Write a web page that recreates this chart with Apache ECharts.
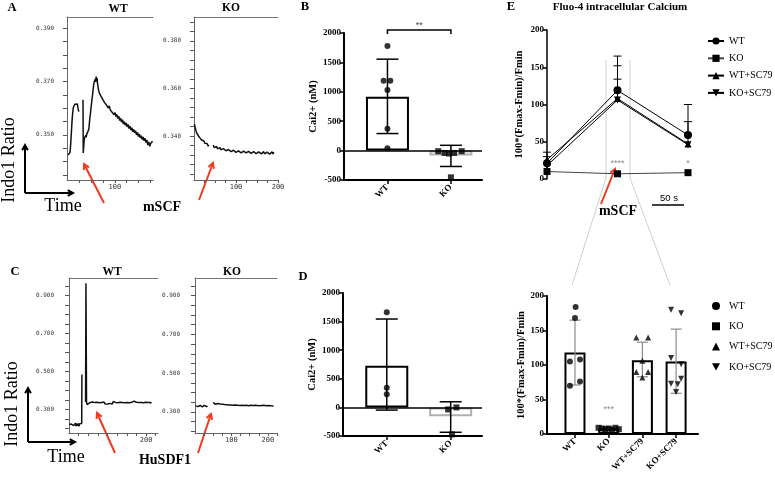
<!DOCTYPE html>
<html><head><meta charset="utf-8">
<script src="https://cdn.jsdelivr.net/npm/echarts@6/dist/echarts.min.js"></script>
<style>html,body{margin:0;padding:0;background:#fff}#c{width:775px;height:481px}</style>
</head><body><div id="c"></div>
<script>
// ---------------- DATA ----------------
// Panel A (mSCF) Indo1 ratio traces: time (s) / ratio, null = recording gap
const aWtTime = [0,1,2,3,4,5,6,7,8,9,10,11,12,13,14,15,16,17,18,19,20,21,22,23,28,
  32,32.6,34,35,36,37,38,39,40,41,42,43,44,45,46,47,48,49,50,51,52,53,54,55,56,57,58,59,60,61,62,63,64,65,66,67,68,
  70,72,74,76,78,80,82,84,86,88,90,92,94,96,98,100,102,104,106,108,110,112,114,116,118,120,122,124,126,128,130,
  132,134,136,138,140,142,144,146,148,150,152,154,156,158,160,162,164,166,168,170,172,174,176,178,180];
const aWtRatio = [.3425,.3430,.3422,.3428,.3433,.3445,.3470,.3500,.3530,.3560,.3580,.3597,.3606,.3612,.3606,.3615,.3620,.3611,.3618,.3609,.3616,.3604,.3598,.3587,null,
  .3632,.3432,.3468,.3487,.3494,.3486,.3499,.3491,.3503,.3496,.3506,.3510,.3519,.3532,.3551,.3568,.3582,.3601,.3614,.3632,.3644,.3661,.3677,.3691,.3699,.3694,.3709,.3699,.3719,.3704,.3713,.3691,.3683,.3669,.3676,.3656,.3663,
  .3646,.3652,.3633,.3640,.3621,.3628,.3612,.3619,.3601,.3609,.3594,.3601,.3585,.3592,.3576,.3584,.3569,.3577,.3562,.3570,.3554,.3563,.3548,.3557,.3541,.3550,.3536,.3545,.3530,.3539,.3524,
  .3533,.3518,.3527,.3512,.3521,.3507,.3515,.3500,.3509,.3494,.3503,.3489,.3497,.3483,.3492,.3478,.3487,.3472,.3481,.3462,.3474,.3457,.3468,.3462,.3476];
const aKoTime = [1,2,3,4,5,6,7,8,9,10,11,12,13,14,15,16,17,18,19,20,21,22,23,24,25,26,27,28,29,30,31,32,33,34,35,36,41,
  46,48,50,52,54,56,58,60,62,64,66,68,70,72,74,76,78,80,82,84,86,88,90,92,94,96,98,100,102,104,106,108,110,112,114,116,118,120,
  122,124,126,128,130,132,134,136,138,140,142,144,146,148,150,152,154,156,158,160,162,164,166,168,170,172,174,176,178,180,182,184,186,188,190,192];
const aKoRatio = [.3450,.3441,.3436,.3426,.3422,.3414,.3417,.3408,.3410,.3402,.3405,.3397,.3400,.3392,.3395,.3387,.3391,.3383,.3387,.3379,.3383,.3375,.3380,.3372,.3377,.3369,.3374,.3366,.3371,.3363,.3368,.3360,.3366,.3357,.3363,.3355,null,
  .3362,.3351,.3358,.3349,.3356,.3346,.3353,.3344,.3351,.3342,.3349,.3341,.3347,.3339,.3346,.3338,.3345,.3336,.3343,.3335,.3342,.3334,.3341,.3333,.3340,.3332,.3339,.3331,.3338,.3330,.3337,.3329,.3337,.3329,.3336,.3328,.3336,.3328,
  .3337,.3329,.3336,.3327,.3335,.3328,.3336,.3327,.3335,.3326,.3334,.3327,.3335,.3326,.3334,.3325,.3333,.3326,.3334,.3325,.3333,.3326,.3334,.3325,.3333,.3324,.3332,.3325,.3333,.3324,.3332,.3325,.3333,.3324,.3332,.3326];
// Panel C (HuSDF1) Indo1 ratio traces
const cWtTime = [0,1,2,3,4,5,6,7,8,9,10,11,12,13,14,15,16,17,18,19,20,21,22,23,24,25,26,27,28,29,30,31,32,33,33.5,38,
  43,44,45.5,47,49,52,55,58,61,64,67,70,73,76,79,82,85,88,91,94,97,100,103,106,109,112,115,118,121,124,127,130,133,136,139,142,
  145,148,151,154,157,160,163,166,169,172,175,178,181,184,187,190,193,196,199,202,205,208,211,214];
const cWtRatio = [.222,.215,.226,.218,.230,.212,.224,.219,.228,.214,.222,.231,.216,.225,.210,.223,.219,.229,.213,.226,.218,.232,.215,.224,.220,.228,.212,.225,.218,.230,.216,.224,.219,.227,.485,null,
  .340,.965,.338,.327,.336,.329,.338,.331,.340,.330,.337,.328,.339,.332,.336,.327,.338,.331,.340,.329,.335,.330,.339,.333,.337,.329,.343,.352,.338,.330,.336,.328,.339,.331,.337,.329,
  .336,.330,.338,.332,.336,.328,.339,.333,.345,.353,.339,.330,.337,.329,.338,.331,.336,.330,.339,.332,.337,.330,.338,.333];
const cKoTime = [2,4,6,8,10,12,14,16,18,20,22,24,26,28,30,32,34,43,
  50,52,54,56,58,60,63,66,69,72,75,78,81,84,87,90,93,96,99,102,105,108,111,114,117,120,123,126,129,132,135,138,141,144,147,150,
  153,156,159,162,165,168,171,174,177,180,183,186,189,192,195,198,201,204,207,210,213,215];
const cKoRatio = [.331,.325,.334,.327,.336,.324,.333,.328,.335,.326,.332,.323,.334,.329,.336,.327,.331,null,
  .349,.342,.347,.339,.344,.338,.343,.336,.341,.334,.340,.333,.338,.331,.337,.330,.336,.329,.335,.328,.334,.327,.335,.328,.334,.327,.333,.326,.334,.327,.333,.325,.334,.328,.332,.325,
  .334,.327,.333,.326,.334,.325,.333,.327,.332,.324,.333,.326,.334,.325,.332,.327,.333,.325,.332,.326,.331,.328];
// Trace axis ticks / labels
const aWtYTicks = [0.335,0.34,0.345,0.35,0.355,0.36,0.365,0.37,0.375,0.38,0.385,0.39];
const aWtYLabels = [0.35,0.37,0.39];
const aKoYTicks = [0.324,0.328,0.332,0.336,0.34,0.344,0.348,0.352,0.356,0.36,0.364,0.368,0.372,0.376,0.38,0.384,0.388];
const aKoYLabels = [0.34,0.36,0.38];
const cYTicks = [0.2,0.25,0.3,0.35,0.4,0.45,0.5,0.55,0.6,0.65,0.7,0.75,0.8,0.85,0.9,0.95];
const cYLabels = [0.3,0.5,0.7,0.9];
const aWtXTicks = [25,50,75,100,125,150,175];
const aWtXLabels = [100];
const aKoXTicks = [25,50,75,100,125,150,175,200];
const aKoXLabels = [100,200];
const cWtXTicks = [25,50,75,100,125,150,175,200,225];
const cWtXLabels = [200];
const cKoXTicks = [25,50,75,100,125,150,175,200,225];
const cKoXLabels = [100,200];

// Panel B and D : Cai2+ (nM)
const bdCats = ['WT','KO'];
const bMeans = [915, -85];
const bErrLo = [290, -270];
const bErrHi = [1555, 90];
const bWtPts = [1780, 1190, 1190, 1030, 370, 40];
const bWtJit = [0, -0.06, 0.045, 0, 0, 0];
const bKoPts = [-10, -40, -50, -40, -10, -455];
const bKoJit = [-0.2, -0.1, -0.03, 0.05, 0.17, 0];
const bSigY = 2050;
const dMeans = [730, -155];
const dErrLo = [-47, -435];
const dErrHi = [1545, 98];
const dWtPts = [1662, 343, 232];
const dWtJit = [0, 0, 0];
const dKoPts = [-35, 0, -472];
const dKoJit = [-0.04, 0.09, 0.02];
const bdYTicks = [-500, 0, 500, 1000, 1500, 2000];

// Panel E top: Fluo-4 time course (3 time points)
const eNames = ['WT','KO','WT+SC79','KO+SC79'];
const eTopTimes = [0, 1, 2];
const eTopWt = [21, 119, 59];
const eTopKo = [10, 7, 8.5];
const eTopWtSc = [26, 108, 47];
const eTopKoSc = [18, 106, 46];
const eTopWtSd = [15, 46, 41];
const eTopWtScSd = [4, 26, 30];
const eTopKoScSd = [0, 46, 0];
const eTopSig = ['', '****', '*'];
// Panel E bottom: peak response per group
const eMeans = [118, 8, 107, 105];
const eErrLo = [71, 6, 83, 59];
const eErrHi = [165, 10, 133, 152];
const eWtPts = [184, 168, 105, 108, 70, 76];
const eWtJit = [0.02, 0, -0.15, 0.15, -0.15, 0.15];
const eKoPts = [9, 8, 7, 8, 6, 9, 7];
const eKoJit = [-0.3, -0.2, -0.1, 0, 0.1, 0.2, 0.3];
const eWtScPts = [140, 140, 106, 90, 90, 82];
const eWtScJit = [-0.18, 0.17, 0, -0.18, 0.17, 0];
const eKoScPts = [180, 175, 110, 101, 80, 73, 72, 61];
const eKoScJit = [-0.15, 0.15, -0.15, 0.15, 0.15, -0.15, 0.05, 0];
const eSig = ['', '***', '', ''];
const eYTicks = [0, 50, 100, 150, 200];

// ---------------- CHART ----------------
const chart = echarts.init(document.getElementById('c'));
const SERIF = 'Liberation Serif';
const invTri = 'path://M0,0L10,0L5,9Z';
const eSymbols = ['circle', 'rect', 'triangle', invTri];
const RED = '#f2391e';

const toPairs = (ts, vs) => ts.map((t, i) => [t, vs[i] === null ? '-' : vs[i]]);
const jitter = (ci, vals, jit) => vals.map((v, i) => [ci + jit[i], v]);

function traceX(grid, min, max, ticks, labels) {
  return {type:'value', gridIndex:grid, min, max,
    axisLine:{show:true, onZero:false, lineStyle:{color:'#666', width:1}},
    splitLine:{show:false},
    axisTick:{show:true, length:3, customValues:ticks, lineStyle:{color:'#555', width:1}},
    axisLabel:{show:true, customValues:labels, fontFamily:'DejaVu Sans Mono', fontSize:7, color:'#333', margin:4,
      formatter:v => String(v)}};
}
function topBorder(grid) {
  return {type:'value', gridIndex:grid, position:'top', min:0, max:1,
    axisLine:{show:true, onZero:false, lineStyle:{color:'#777', width:1}},
    axisTick:{show:false}, axisLabel:{show:false}, splitLine:{show:false}};
}
function traceY(grid, min, max, ticks, labels, margin) {
  return {type:'value', gridIndex:grid, min, max,
    axisLine:{show:true, onZero:false, lineStyle:{color:'#666', width:1}},
    splitLine:{show:false},
    axisTick:{show:true, length:4, customValues:ticks, lineStyle:{color:'#555', width:1}},
    axisLabel:{show:true, customValues:labels, fontFamily:'DejaVu Sans Mono', fontSize:6, color:'#333', margin,
      formatter:v => v.toFixed(3)}};
}
const boldLbl = {fontFamily:SERIF, fontWeight:'bold', fontSize:9, color:'#000'};
function barX(grid, min, max, cats) {
  const vals = cats.map((c, i) => i);
  return {type:'value', gridIndex:grid, min, max,
    axisLine:{show:true, onZero:false, lineStyle:{color:'#000', width:2}},
    splitLine:{show:false},
    axisTick:{show:true, length:4, customValues:vals, lineStyle:{color:'#000', width:1.5}},
    axisLabel:Object.assign({show:true, customValues:vals, rotate:45, margin:6,
      formatter:v => cats[Math.round(v)]}, boldLbl)};
}
function barY(grid, min, max, ticks, name, gap, lw) {
  return {type:'value', gridIndex:grid, min, max,
    name, nameLocation:'middle', nameGap:gap,
    nameTextStyle:{fontFamily:SERIF, fontWeight:'bold', fontSize:10.5, color:'#000'},
    axisLine:{show:true, onZero:false, lineStyle:{color:'#000', width:lw}},
    splitLine:{show:false},
    axisTick:{show:true, length:4, customValues:ticks, lineStyle:{color:'#000', width:1.5}},
    axisLabel:Object.assign({show:true, customValues:ticks, margin:3, formatter:v => String(v)}, boldLbl)};
}
function errBars(xi, yi, data, color, lw, cap, oneSided, z) {
  return {type:'custom', xAxisIndex:xi, yAxisIndex:yi, data, z: z || 5, silent:true,
    renderItem:(p, api) => {
      const x = api.value(0), lo = api.value(1), hi = api.value(2);
      if (hi === lo) return {type:'group', children:[]};
      const t = api.coord([x, hi]), b = api.coord([x, lo]);
      const st = {stroke:color, lineWidth:lw};
      const ch = [
        {type:'line', shape:{x1:t[0], y1:t[1], x2:b[0], y2:b[1]}, style:st},
        {type:'line', shape:{x1:t[0]-cap/2, y1:t[1], x2:t[0]+cap/2, y2:t[1]}, style:st}];
      if (!oneSided) ch.push({type:'line', shape:{x1:b[0]-cap/2, y1:b[1], x2:b[0]+cap/2, y2:b[1]}, style:st});
      return {type:'group', children:ch};
    }};
}
function sigText(xi, yi, data, size, color) {
  return {type:'custom', xAxisIndex:xi, yAxisIndex:yi, data, silent:true, z:6,
    renderItem:(p, api) => {
      const c = api.coord([api.value(0), api.value(1)]);
      return {type:'text', x:c[0], y:c[1], style:{text:data[p.dataIndex][2], align:'center', verticalAlign:'middle',
        fontFamily:'Liberation Sans', fontSize:size, fill:color}};
    }};
}
function chevArrow(x1, y1, x2, y2, color, w, head) {
  const a = Math.atan2(y2 - y1, x2 - x1);
  const p1 = [x2 - head * Math.cos(a - 0.5), y2 - head * Math.sin(a - 0.5)];
  const p2 = [x2 - head * Math.cos(a + 0.5), y2 - head * Math.sin(a + 0.5)];
  return [
    {type:'line', shape:{x1, y1, x2, y2}, style:{stroke:color, lineWidth:w}},
    {type:'polyline', shape:{points:[p1, [x2, y2], p2]}, style:{stroke:color, lineWidth:w, fill:null}}];
}
function txt(x, y, text, size, opts) {
  opts = opts || {};
  return {type:'text', x, y, rotation:opts.rot || 0,
    style:{text, align:'center', verticalAlign:'middle', fontFamily:opts.family || SERIF,
      fontWeight:opts.weight || 'normal', fontSize:size, fill:opts.color || '#000'}};
}

const traceLine = (xi, yi, ts, vs) => ({type:'line', xAxisIndex:xi, yAxisIndex:yi, data:toPairs(ts, vs),
  showSymbol:false, symbol:'none', connectNulls:false, lineStyle:{color:'#111', width:1.5}, silent:true});
const scat = (xi, yi, data, symbol, size, name) => ({type:'scatter', name, xAxisIndex:xi, yAxisIndex:yi, data,
  symbol, symbolSize:size, itemStyle:{color:'#000'}, z:7, silent:true});

const eTopVals = [eTopWt, eTopKo, eTopWtSc, eTopKoSc];
const eTopLines = eNames.map((n, i) => ({type:'line', name:n, xAxisIndex:10, yAxisIndex:6,
  data:eTopTimes.map((t, j) => [t, eTopVals[i][j]]), symbol:eSymbols[i], symbolSize:i === 0 ? 8 : 7,
  lineStyle:{color:i === 1 ? '#444' : '#000', width:1}, itemStyle:{color:'#000'}, z:6 - (i === 0 ? 0 : 1), silent:true}));

const option = {
  animation:false,
  backgroundColor:'#fff',
  grid:[
    {left:67, top:17, width:86, height:163},
    {left:194, top:17, width:84, height:163},
    {left:69, top:278, width:89, height:155},
    {left:195, top:278, width:82, height:155},
    {left:344, top:33, width:138, height:147},
    {left:343, top:293, width:139, height:143},
    {left:547, top:30, width:141, height:149},
    {left:547, top:296, width:151, height:138}
  ],
  xAxis:[
    traceX(0, -2, 181, aWtXTicks, aWtXLabels), topBorder(0),
    traceX(1, 0, 200, aKoXTicks, aKoXLabels), topBorder(1),
    traceX(2, 0, 231, cWtXTicks, cWtXLabels), topBorder(2),
    traceX(3, 0, 225, cKoXTicks, cKoXLabels), topBorder(3),
    barX(4, -0.685, 1.49, bdCats),
    barX(5, -0.685, 1.49, bdCats),
    {type:'value', gridIndex:6, min:0, max:2, show:false},
    barX(7, -0.83, 3.65, eNames)
  ],
  yAxis:[
    traceY(0, 0.3331, 0.3942, aWtYTicks, aWtYLabels, 13),
    traceY(1, 0.3215, 0.390, aKoYTicks, aKoYLabels, 13),
    traceY(2, 0.177, 0.993, cYTicks, cYLabels, 15),
    traceY(3, 0.191, 0.991, cYTicks, cYLabels, 15),
    barY(4, -500, 2000, bdYTicks, 'Cai2+ (nM)', 20, 2),
    barY(5, -500, 2000, bdYTicks, 'Cai2+ (nM)', 20, 2),
    barY(6, 0, 200, eYTicks, '100*(Fmax-Fmin)/Fmin', 22, 1.5),
    barY(7, 0, 200, eYTicks, '100*(Fmax-Fmin)/Fmin', 20, 2)
  ],
  legend:[
    {left:702, top:31, orient:'vertical', itemWidth:16, itemHeight:9, itemGap:7.3, selectedMode:false,
      data:eNames, textStyle:{fontFamily:SERIF, fontSize:10, color:'#000'}},
    {left:707, top:296, orient:'vertical', itemWidth:8, itemHeight:8, itemGap:10.3, selectedMode:false,
      data:eNames.map((n, i) => ({name:n, icon:eSymbols[i], itemStyle:{color:'#000'}})),
      textStyle:{fontFamily:SERIF, fontSize:10, color:'#000', padding:[0,0,0,4]}}
  ],
  series:[
    ...eTopLines,
    traceLine(0, 0, aWtTime, aWtRatio),
    traceLine(2, 1, aKoTime, aKoRatio),
    traceLine(4, 2, cWtTime, cWtRatio),
    traceLine(6, 3, cKoTime, cKoRatio),
    // Panel B
    {type:'bar', xAxisIndex:8, yAxisIndex:4, barWidth:43, silent:true, z:2,
      data:bMeans.map((m, i) => ({value:[i, m], itemStyle:{borderColor:i === 0 ? '#000' : '#b0b0b0'}})),
      itemStyle:{color:'#fff', borderWidth:2},
      markLine:{silent:true, symbol:'none', label:{show:false}, lineStyle:{color:'#000', width:1.5, type:'solid'}, data:[{yAxis:0}]}},
    errBars(8, 4, bMeans.map((m, i) => [i, bErrLo[i], bErrHi[i]]), '#000', 1.5, 22, false),
    scat(8, 4, jitter(0, bWtPts, bWtJit), 'circle', 6),
    scat(8, 4, jitter(1, bKoPts, bKoJit), 'rect', 6),
    {type:'custom', xAxisIndex:8, yAxisIndex:4, data:[[0, 1, bSigY]], silent:true, z:6,
      renderItem:(p, api) => {
        const a = api.coord([api.value(0), api.value(2)]), b = api.coord([api.value(1), api.value(2)]);
        return {type:'group', children:[
          {type:'polyline', shape:{points:[[a[0], a[1] + 4], [a[0], a[1]], [b[0], b[1]], [b[0], b[1] + 4]]},
            style:{stroke:'#000', lineWidth:1.5, fill:null}},
          {type:'text', x:(a[0] + b[0]) / 2, y:a[1] - 5, style:{text:'**', align:'center', verticalAlign:'middle',
            fontFamily:'Liberation Sans', fontSize:9, fill:'#444'}}]};
      }},
    // Panel D
    {type:'bar', xAxisIndex:9, yAxisIndex:5, barWidth:43, silent:true, z:2,
      data:dMeans.map((m, i) => ({value:[i, m], itemStyle:{borderColor:i === 0 ? '#000' : '#b0b0b0'}})),
      itemStyle:{color:'#fff', borderWidth:2},
      markLine:{silent:true, symbol:'none', label:{show:false}, lineStyle:{color:'#000', width:1.5, type:'solid'}, data:[{yAxis:0}]}},
    errBars(9, 5, dMeans.map((m, i) => [i, dErrLo[i], dErrHi[i]]), '#000', 1.5, 22, false),
    scat(9, 5, jitter(0, dWtPts, dWtJit), 'circle', 6),
    scat(9, 5, jitter(1, dKoPts, dKoJit), 'rect', 6),
    // Panel E top: error bars + significance
    errBars(10, 6, eTopTimes.map((t, j) => [t, eTopWt[j], eTopWt[j] + eTopWtSd[j]]), '#000', 1, 8, true, 4),
    errBars(10, 6, eTopTimes.map((t, j) => [t, eTopWtSc[j], eTopWtSc[j] + eTopWtScSd[j]]), '#000', 1, 8, true, 4),
    errBars(10, 6, eTopTimes.map((t, j) => [t, eTopKoSc[j], eTopKoSc[j] + eTopKoScSd[j]]), '#000', 1, 8, true, 4),
    sigText(10, 6, eTopTimes.map((t, j) => [t, 21, eTopSig[j]]), 9, '#888'),
    // Panel E bottom
    {type:'bar', xAxisIndex:11, yAxisIndex:7, barWidth:21, silent:true, z:2,
      data:eMeans.map((m, i) => [i, m]), itemStyle:{color:'#fff', borderColor:'#000', borderWidth:2}},
    errBars(11, 7, eMeans.map((m, i) => [i, eErrLo[i], eErrHi[i]]), '#8a8a8a', 1.2, 11, false),
    scat(11, 7, jitter(0, eWtPts, eWtJit), 'circle', 6),
    scat(11, 7, jitter(1, eKoPts, eKoJit), 'rect', 6),
    scat(11, 7, jitter(2, eWtScPts, eWtScJit), 'triangle', 6),
    scat(11, 7, jitter(3, eKoScPts, eKoScJit), invTri, 6),
    sigText(11, 7, eMeans.map((m, i) => [i, 36, eSig[i]]), 9, '#888')
  ],
  graphic:[
    txt(12, 8, 'A', 12.5, {weight:'bold'}), txt(305, 7, 'B', 12.5, {weight:'bold'}),
    txt(15, 272, 'C', 12.5, {weight:'bold'}), txt(303, 277, 'D', 12.5, {weight:'bold'}),
    txt(511, 7, 'E', 12.5, {weight:'bold'}),
    txt(118, 9, 'WT', 11.5, {weight:'bold'}), txt(231, 8, 'KO', 11.5, {weight:'bold'}),
    txt(112, 272, 'WT', 11.5, {weight:'bold'}), txt(232, 272, 'KO', 11.5, {weight:'bold'}),
    txt(620, 7, 'Fluo-4 intracellular Calcium', 11, {weight:'bold'}),
    txt(9, 160, 'Indo1 Ratio', 18, {rot:Math.PI / 2}),
    txt(12, 404, 'Indo1 Ratio', 18, {rot:Math.PI / 2}),
    txt(63, 206, 'Time', 18), txt(66, 457, 'Time', 18),
    ...chevArrow(25, 193, 25, 145, '#000', 2, 6), ...chevArrow(25, 193, 73, 193, '#000', 2, 6),
    ...chevArrow(28, 442, 28, 388, '#000', 2, 6), ...chevArrow(28, 442, 75, 442, '#000', 2, 6),
    txt(162, 207, 'mSCF', 14, {weight:'bold'}),
    txt(165, 460, 'HuSDF1', 14, {weight:'bold'}),
    txt(618, 211, 'mSCF', 14, {weight:'bold'}),
    ...chevArrow(104, 203, 84, 164, RED, 2, 6),
    ...chevArrow(199, 200, 213, 163, RED, 2, 6),
    ...chevArrow(115, 453, 97, 413, RED, 2, 6),
    ...chevArrow(198, 453, 211, 414, RED, 2, 6),
    ...chevArrow(601, 204, 615, 169, RED, 2, 6),
    txt(669, 198, '50 s', 9.5, {family:'Liberation Sans'}),
    {type:'line', shape:{x1:652, y1:205, x2:684, y2:205}, style:{stroke:'#000', lineWidth:1.5}},
    {type:'polyline', shape:{points:[[606, 60], [606, 178], [572, 285]]}, style:{stroke:'#cfcfcf', lineWidth:1, fill:null}, z:-1},
    {type:'polyline', shape:{points:[[630, 60], [630, 178], [670, 285]]}, style:{stroke:'#cfcfcf', lineWidth:1, fill:null}, z:-1}
  ]
};
chart.setOption(option);
</script>
</body></html>
